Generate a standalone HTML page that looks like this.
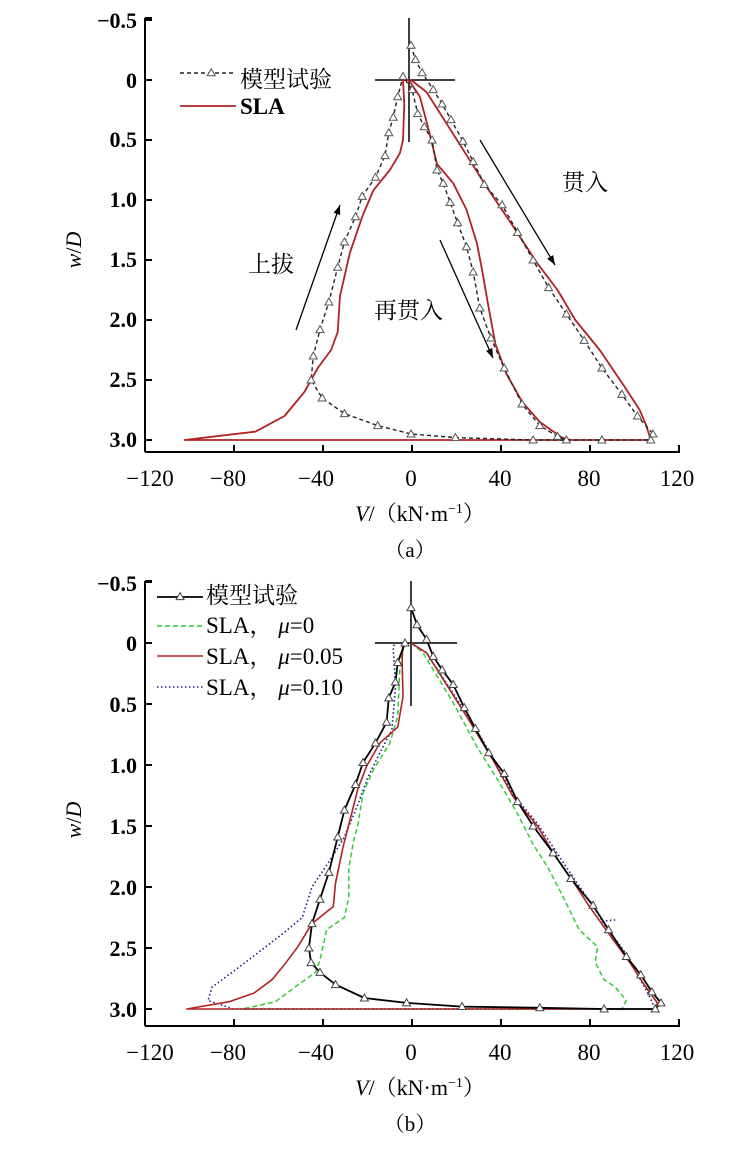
<!DOCTYPE html>
<html><head><meta charset="utf-8"><style>
body{margin:0;background:#fff;}
svg{display:block;font-family:"Liberation Serif","Noto Serif CJK SC",serif;}
</style></head><body>
<svg id="s" width="731" height="1149" viewBox="0 0 731 1149" xmlns="http://www.w3.org/2000/svg">
<g font-size="22" font-weight="bold" fill="#000" text-anchor="end">
<text x="137" y="28">−0.5</text><text x="137" y="88">0</text><text x="137" y="147">0.5</text>
<text x="137" y="207">1.0</text><text x="137" y="267">1.5</text><text x="137" y="327">2.0</text>
<text x="137" y="387">2.5</text><text x="137" y="447">3.0</text>
<text x="137" y="591">−0.5</text><text x="137" y="651">0</text><text x="137" y="712">0.5</text>
<text x="137" y="773">1.0</text><text x="137" y="834">1.5</text><text x="137" y="895">2.0</text>
<text x="137" y="956">2.5</text><text x="137" y="1017">3.0</text>
</g>
<g font-size="23" fill="#000" text-anchor="middle">
<text x="150" y="486">−120</text><text x="228" y="486">−80</text><text x="316" y="486">−40</text>
<text x="411" y="486">0</text><text x="500" y="486">40</text><text x="589" y="486">80</text><text x="677" y="486">120</text>
<text x="150" y="1060">−120</text><text x="228" y="1060">−80</text><text x="316" y="1060">−40</text>
<text x="411" y="1060">0</text><text x="500" y="1060">40</text><text x="589" y="1060">80</text><text x="677" y="1060">120</text>
<text x="420" y="521" font-size="22"><tspan font-style="italic">V</tspan>/（kN·m<tspan font-size="14" dy="-8">−1</tspan><tspan dy="8">）</tspan></text>
<text x="410" y="557" font-size="21">（a）</text>
<text x="420" y="1095" font-size="22"><tspan font-style="italic">V</tspan>/（kN·m<tspan font-size="14" dy="-8">−1</tspan><tspan dy="8">）</tspan></text>
<text x="410" y="1131" font-size="21">（b）</text>
</g>
<text transform="translate(81,250) rotate(-90)" font-size="22" text-anchor="middle"><tspan font-style="italic">w</tspan>/<tspan font-style="italic">D</tspan></text>
<text transform="translate(81,820) rotate(-90)" font-size="22" text-anchor="middle"><tspan font-style="italic">w</tspan>/<tspan font-style="italic">D</tspan></text>
<g id="dyn"></g>
<g font-size="23" fill="#000">
<text x="240" y="87">模型试验</text>
<text x="240" y="114" font-weight="bold">SLA</text>
<text x="562" y="190">贯入</text>
<text x="248" y="272">上拔</text>
<text x="374" y="318">再贯入</text>
<text x="206" y="603">模型试验</text>
<text x="206" y="633">SLA， <tspan font-style="italic">μ</tspan>=0</text>
<text x="206" y="664">SLA， <tspan font-style="italic">μ</tspan>=0.05</text>
<text x="206" y="695">SLA， <tspan font-style="italic">μ</tspan>=0.10</text>
</g>
</svg>
<script>
var NS="http://www.w3.org/2000/svg",g=document.getElementById("dyn");
function el(t,a){var e=document.createElementNS(NS,t);for(var k in a)e.setAttribute(k,a[k]);g.appendChild(e);return e;}
function ln(x1,y1,x2,y2,w,c){el("line",{x1:x1,y1:y1,x2:x2,y2:y2,stroke:c||"#000","stroke-width":w||1.5});}
function axes(top,y0,s,bot){
 ln(145,top,145,bot,2);ln(145,bot,680,bot,2);ln(145,top,152,top,2);
 for(var i=0;i<=6;i++){var x=145+i*89;ln(x,bot,x,bot-7,2);}
 for(var v=-0.5;v<=3.01;v+=0.5){var y=y0+v*s;ln(145,y,152,y,2);}
}
axes(18,80,120,452);axes(581,643,122,1026);
function P(d,y0,s){return d.map(function(p){return (411+p[0]*2.22).toFixed(1)+","+(y0+p[1]*s).toFixed(1)}).join(" ");}
function pl(d,y0,s,st,w,da){el("polyline",{points:P(d,y0,s),fill:"none",stroke:st,"stroke-width":w,"stroke-dasharray":da||"none","stroke-linejoin":"round"});}
function tri(d,y0,s,st){d.forEach(function(p){var x=411+p[0]*2.22,y=y0+p[1]*s;el("polygon",{points:(x)+","+(y-4)+" "+(x-4)+","+(y+3)+" "+(x+4)+","+(y+3),fill:"#fff",stroke:st,"stroke-width":1});});}
var Tpen=[[0,-0.29],[2,-0.17],[5,-0.06],[10,0.08],[14,0.2],[18,0.33],[23.4,0.51],[28,0.68],[33,0.87],[41,1.04],[48,1.27],[55,1.5],[62,1.73],[70,1.95],[78,2.17],[86,2.4],[95,2.62],[102,2.8],[109,2.95],[108,3.0]];
var Tbot=[[86,3.0],[55,3.0],[20,2.98],[0,2.95],[-15,2.88],[-30,2.78],[-40,2.65],[-45,2.5],[-44,2.3],[-41,2.08],[-37,1.85],[-33,1.56],[-30,1.35],[-25,1.14],[-22,0.97],[-16,0.81],[-11.7,0.63],[-10,0.44],[-8,0.31],[-6,0.14],[-3.6,-0.03]];
var Tre=[[0.5,0.08],[3,0.28],[6,0.39],[9.5,0.5],[11.7,0.75],[14.5,0.86],[17.6,1.02],[21,1.19],[25,1.39],[28,1.6],[31,1.9],[36,2.15],[42,2.4],[50,2.7],[58,2.88],[66,2.97],[70,3.0]];
var T=Tpen.concat(Tbot,Tre);
var S=[[0,0],[7,0.1],[20.7,0.5],[34,0.89],[46,1.22],[57,1.53],[66,1.75],[74,2.0],[85,2.25],[96,2.55],[103,2.75],[106,2.88],[108,3.0],[-102,3.0],[-70,2.93],[-57,2.8],[-48,2.6],[-42,2.4],[-36,2.25],[-33,2.1],[-32,1.8],[-27.5,1.44],[-22,1.14],[-17,0.92],[-9.5,0.75],[-5,0.61],[-3.6,0.5],[-3,0.2],[-3.6,0.0],[-1,0],[4,0.14],[7.6,0.39],[11.7,0.7],[19,0.86],[25,1.08],[29.7,1.36],[32,1.58],[35,1.9],[38,2.2],[43,2.45],[50,2.68],[58,2.85],[68,2.98],[72,3.0]];
// panel a
ln(409,18,409,142,1.5);ln(375,80,455,80,1.5);
pl(S,80,120,"#b22222",1.8);
pl(T,80,120,"#222",1.4,"4,3");tri(T,80,120,"#555");
el("line",{x1:180,y1:73,x2:236,y2:73,stroke:"#222","stroke-width":1.4,"stroke-dasharray":"4,3"});tri([[-90,-0.06]],80,120,"#555");
ln(180,106,236,106,1.8,"#b22222");
function arrow(x1,y1,x2,y2){ln(x1,y1,x2,y2,1.3);var a=Math.atan2(y2-y1,x2-x1),L=10,w=0.35;
el("polygon",{points:x2+","+y2+" "+(x2-L*Math.cos(a-w))+","+(y2-L*Math.sin(a-w))+" "+(x2-L*Math.cos(a+w))+","+(y2-L*Math.sin(a+w)),fill:"#000"});}
arrow(480,140,555,265);arrow(296,330,340,205);arrow(440,240,493,358);
// panel b
ln(411,581,411,706,1.5);ln(375,643,457,643,1.5);
var TB=[[0,-0.29],[2.7,-0.15],[7,-0.03],[10,0.11],[14,0.22],[19,0.34],[24,0.53],[29,0.7],[35,0.9],[42,1.07],[48,1.3],[55,1.5],[64,1.72],[72,1.93],[82,2.15],[89,2.35],[97,2.57],[103.5,2.72],[108.5,2.86],[112.6,2.95],[110,3.0],[87,3.0],[58,2.99],[23,2.98],[-2,2.95],[-21,2.91],[-34,2.8],[-41,2.7],[-45,2.62],[-46,2.5],[-44.6,2.3],[-41,2.1],[-37,1.88],[-33,1.59],[-30,1.37],[-25,1.16],[-21.6,0.98],[-16,0.82],[-11,0.65],[-10,0.45],[-7,0.32],[-6,0.16],[-2.7,0]];
var G=[[0,0],[5.4,0.08],[19,0.49],[29.7,0.85],[40,1.15],[47.7,1.39],[55,1.65],[62,1.85],[69,2.1],[75.7,2.35],[84,2.49],[83,2.62],[87,2.76],[92,2.82],[97,2.93],[95,3.0],[-76,3.0],[-61,2.94],[-50,2.79],[-43,2.7],[-41,2.6],[-38,2.35],[-30,2.25],[-28,2.08],[-28,1.84],[-25.7,1.61],[-24,1.5],[-21.6,1.23],[-17,1.04],[-9.5,0.82],[-6,0.6],[-5,0.2],[-3,0]];
var R=[[0,0],[7,0.08],[25,0.6],[37,0.96],[46,1.26],[57,1.5],[64,1.72],[72.5,1.94],[80,2.15],[89,2.38],[98.6,2.62],[105,2.8],[111,2.95],[110,3.0],[-101,3.0],[-82,2.94],[-70.7,2.87],[-62.6,2.76],[-57.6,2.65],[-51,2.49],[-44.6,2.3],[-35,2.16],[-34,1.97],[-30.6,1.67],[-26.6,1.39],[-24,1.2],[-20,1.01],[-14,0.82],[-6,0.69],[-3.6,0.44],[-4,0.14],[-3.6,0]];
var B=[[0,0],[7,0.08],[25,0.58],[37,0.94],[46,1.24],[57,1.48],[65,1.7],[73,1.92],[81,2.13],[88,2.33],[97,2.55],[103,2.75],[107,2.88],[110,3.0],[-80,3.0],[-91.4,2.93],[-89.6,2.82],[-80.6,2.7],[-69,2.54],[-57.6,2.38],[-49,2.25],[-44.6,2.0],[-36.5,1.78],[-30,1.59],[-24.3,1.34],[-19.4,1.1],[-14,0.9],[-8.6,0.71],[-7,0.36],[-8,0.03],[-7,0]];
pl(G,643,122,"#33cc33",1.5,"5,3");
pl(B,643,122,"#1a1a8c",1.6,"1.5,2.5");
pl([[86,2.28],[92,2.27]],643,122,"#1a1a8c",1.6,"1.5,2.5");
pl(R,643,122,"#b22222",1.6);
pl(TB,643,122,"#000",1.8);tri(TB,643,122,"#444");
ln(157,597,203,597,1.8);tri([[-104,-0.38]],643,122,"#444");
el("line",{x1:157,y1:626,x2:203,y2:626,stroke:"#33cc33","stroke-width":1.5,"stroke-dasharray":"5,3"});
ln(157,656,203,656,1.6,"#b22222");
el("line",{x1:157,y1:687,x2:203,y2:687,stroke:"#1a1a8c","stroke-width":1.6,"stroke-dasharray":"1.5,2.5"});
</script>
</body></html>
